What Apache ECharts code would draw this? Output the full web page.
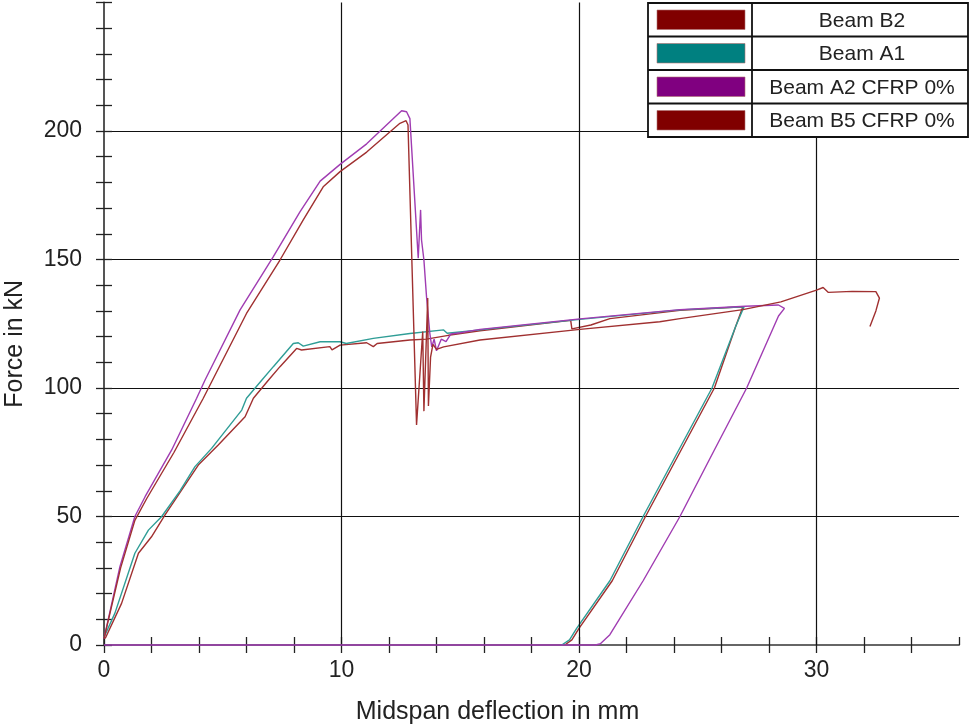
<!DOCTYPE html>
<html>
<head>
<meta charset="utf-8">
<script src="https://cdn.jsdelivr.net/npm/echarts@6/dist/echarts.min.js"></script>
<style>
  html, body { margin: 0; padding: 0; background: #fff; }
  #chart { width: 973px; height: 727px; }
</style>
</head>
<body>
<div id="chart"></div>
<script>
// Load-deflection records, [deflection mm, force kN]
const beamB2 = [
  [0.05, 2.5], [0.74, 16.2], [1.45, 35.7], [2.0, 42.1], [2.57, 50.6], [3.97, 70], [4.81, 77.8],
  [5.94, 88.8], [6.29, 96], [6.92, 103], [7.41, 108.3], [8.11, 115.4], [8.32, 114.8], [9.51, 116.1],
  [9.6, 114.8], [9.94, 116.7], [11.06, 117.6], [11.34, 116.1], [11.5, 117.3], [12.88, 118.7],
  [13.58, 119], [14.5, 120.5], [15.83, 122.3], [19.65, 126.3], [19.7, 123], [20.5, 124.5],
  [21.3, 127], [24.25, 130.2], [26.9, 131.6], [26.6, 124], [25.7, 100], [24.25, 75], [22.8, 50],
  [21.4, 25], [20.0, 6.5], [19.7, 2], [19.4, 0]
];
const beamA1 = [
  [0, 3], [0.46, 12.4], [1.3, 35.7], [1.87, 44.7], [2.43, 50], [3.2, 60], [3.83, 69.4], [4.53, 76.5],
  [5.8, 91.4], [6.0, 96], [6.64, 103], [7.13, 108.3], [7.97, 117.3], [8.18, 117.6], [8.39, 116.3],
  [9.1, 118], [9.94, 118], [10.2, 117.3], [11.34, 119.3], [12.88, 121.2], [14.3, 122.6],
  [14.45, 121.3], [15.83, 122.6], [20.04, 126.7], [24.25, 130.4], [26.95, 131.6], [26.6, 124],
  [25.6, 100], [24.15, 75], [22.7, 50], [21.3, 25], [19.9, 6.5], [19.6, 2], [19.27, 0]
];
const beamA2 = [
  [0, 2.5], [0.67, 30.5], [1.3, 50], [1.73, 57.7], [2.85, 75.9], [3.9, 96], [4.25, 103], [5.73, 130.4],
  [7.13, 151.1], [8.25, 168.5], [9.1, 180.5], [9.94, 187], [11.06, 195], [12.04, 203.6],
  [12.53, 207.9], [12.74, 207.5], [12.88, 204.8], [13.23, 150.5], [13.33, 169.3], [13.37, 157.6],
  [13.47, 149.8], [13.58, 135.5], [13.72, 121.2], [13.8, 116], [13.9, 119], [14.0, 114.5],
  [14.2, 119], [14.4, 118], [14.6, 121], [15.0, 121.5], [15.83, 122.8], [20.04, 126.9],
  [24.25, 130.5], [27.0, 131.8], [28.4, 132.3], [28.65, 131], [28.4, 128], [27.06, 100],
  [25.65, 75], [24.25, 50], [22.7, 25], [21.3, 4], [20.9, 0.5], [20.7, 0], [0, 0]
];
const beamB5 = [
  [0, 2.5], [0.7, 30], [1.3, 48.5], [1.8, 57], [2.95, 75], [4.18, 96], [6.0, 129], [7.41, 149.8],
  [8.39, 165.4], [9.23, 178.3], [9.94, 184.2], [11.06, 191.8], [12.46, 203], [12.72, 204],
  [12.8, 202.3], [13.16, 85.6], [13.42, 122], [13.47, 91], [13.63, 135], [13.66, 93], [13.75, 112],
  [13.85, 117], [14.0, 115], [14.3, 116], [15.83, 118.7], [20.04, 122.8], [23.4, 125.8],
  [24.25, 127], [26.9, 130.5], [28.5, 133.5], [30.0, 138.1], [30.28, 139.1], [30.5, 137.2],
  [31.5, 137.6], [32.5, 137.5], [32.65, 135], [32.5, 130], [32.25, 123.9]
];

const seriesNames = ['Beam B2', 'Beam A1', 'Beam A2 CFRP 0%', 'Beam B5 CFRP 0%'];
const swatchColors = ['#800000', '#008080', '#800080', '#800000'];
const lineColors = ['#a03030', '#2f9d96', '#a03cb2', '#a03030'];

// Grid lines: deflection at 10 mm steps, force at 50 kN steps
const xGridValues = [10, 20, 30];

const FONT = 'Liberation Sans';
const chart = echarts.init(document.getElementById('chart'), null, { renderer: 'canvas' });

const baseX = {
  type: 'value', min: 0, max: 36, interval: 2, position: 'bottom',
  axisLine: { show: true, lineStyle: { color: '#666', width: 2 } },
  splitLine: { show: false }
};
const baseY = {
  type: 'value', min: 0, max: 250, interval: 50, position: 'left',
  axisLine: { show: true, lineStyle: { color: '#555', width: 2 } },
  minorTick: { show: true, splitNumber: 5, length: 8, lineStyle: { color: '#222', width: 1.3 } }
};

const allSeries = [beamB2, beamA1, beamA2, beamB5].map((d, i) => ({
  name: seriesNames[i], type: 'line', data: d, showSymbol: false, symbol: 'none',
  xAxisIndex: 0, yAxisIndex: 0, z: 3 + i, animation: false, clip: false,
  lineStyle: { color: lineColors[i], width: 1.4 }
}));

// Vertical grid lines drawn at axis values
allSeries.unshift({
  type: 'line', data: [], xAxisIndex: 0, yAxisIndex: 0, z: 1, animation: false,
  markLine: {
    silent: true, symbol: 'none', label: { show: false }, animation: false,
    lineStyle: { color: '#111', width: 1.2, type: 'solid' },
    data: xGridValues.map(v => ({ xAxis: v }))
  }
});

// Legend table
const legendLeft = 648, legendTop = 3, rowH = 33.5, colSplit = 752, legendRight = 968;
const legendGraphics = [];
legendGraphics.push({
  type: 'rect', shape: { x: legendLeft, y: legendTop, width: legendRight - legendLeft, height: rowH * 4 },
  style: { fill: '#fff', stroke: '#111', lineWidth: 1.8 }, z: 100
});
legendGraphics.push({
  type: 'line', shape: { x1: colSplit, y1: legendTop, x2: colSplit, y2: legendTop + rowH * 4 },
  style: { stroke: '#111', lineWidth: 1.8 }, z: 101
});
seriesNames.forEach((name, i) => {
  const y0 = legendTop + rowH * i;
  if (i > 0) {
    legendGraphics.push({
      type: 'line', shape: { x1: legendLeft, y1: y0, x2: legendRight, y2: y0 },
      style: { stroke: '#111', lineWidth: 1.8 }, z: 101
    });
  }
  legendGraphics.push({
    type: 'rect', shape: { x: 657, y: y0 + 7, width: 88, height: rowH - 14 },
    style: { fill: swatchColors[i], stroke: '#b07070', lineWidth: 0.6 }, z: 102
  });
  legendGraphics.push({
    type: 'text', x: (colSplit + legendRight) / 2 + 2, y: y0 + rowH / 2 + 1, z: 102,
    style: { text: name, fill: '#222', font: '21px "' + FONT + '"', align: 'center', verticalAlign: 'middle' }
  });
});

chart.setOption({
  animation: false,
  backgroundColor: '#fff',
  grid: { left: 104, right: 14, top: 2.5, bottom: 82, outerBoundsMode: 'none', containLabel: false },
  xAxis: [
    Object.assign({}, baseX, {
      axisTick: { show: true, inside: false, length: 8, lineStyle: { color: '#222', width: 1.3 } },
      axisLabel: {
        show: true, margin: 14, color: '#222', fontFamily: FONT, fontSize: 23, showMaxLabel: false,
        formatter: v => (v % 10 === 0 ? String(v) : '')
      },
      name: 'Midspan deflection in mm', nameLocation: 'middle', nameGap: 55,
      nameTextStyle: { color: '#222', fontFamily: FONT, fontSize: 25, padding: [0, 68, 0, 0] }
    }),
    Object.assign({}, baseX, {
      axisLine: { show: false },
      axisTick: { show: true, inside: true, length: 8, lineStyle: { color: '#222', width: 1.3 } },
      axisLabel: { show: false }
    })
  ],
  yAxis: [
    Object.assign({}, baseY, {
      axisTick: { show: true, inside: false, length: 8, lineStyle: { color: '#222', width: 1.3 } },
      axisLabel: { show: true, margin: 22, color: '#222', fontFamily: FONT, fontSize: 23, showMaxLabel: false },
      splitLine: { show: true, showMinLine: false, showMaxLine: false, lineStyle: { color: '#111', width: 1.2 } },
      name: 'Force in kN', nameLocation: 'middle', nameGap: 76, nameRotate: 90,
      nameTextStyle: { color: '#222', fontFamily: FONT, fontSize: 25, padding: [0, 40, 0, 0] }
    }),
    Object.assign({}, baseY, {
      axisLine: { show: false },
      axisTick: { show: true, inside: true, length: 8, lineStyle: { color: '#222', width: 1.3 } },
      minorTick: { show: true, splitNumber: 5, length: 8, lineStyle: { color: '#222', width: 1.3 } },
      axisLabel: { show: false },
      splitLine: { show: false }
    })
  ],
  series: allSeries,
  graphic: legendGraphics
});
</script>
</body>
</html>
